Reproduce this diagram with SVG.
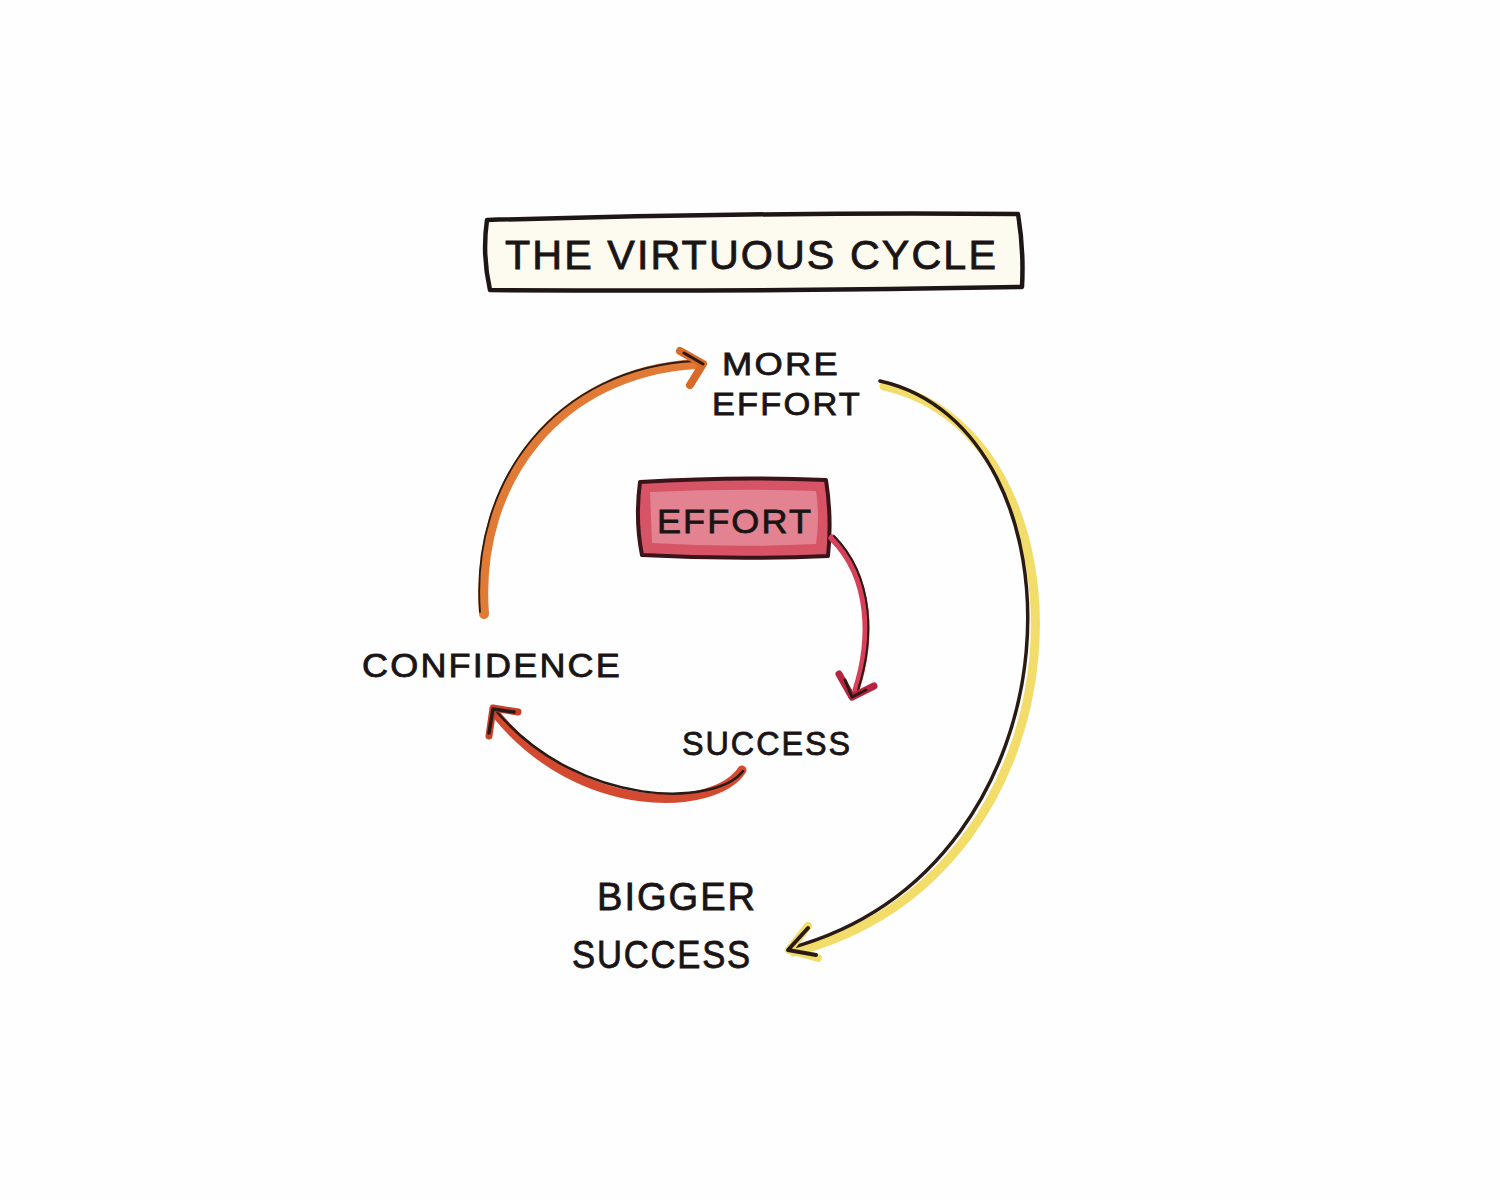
<svg xmlns="http://www.w3.org/2000/svg" width="1500" height="1200" viewBox="0 0 1500 1200">
<style>
.lbl{font-family:"Liberation Sans",Arial,sans-serif;fill:#1a1414;stroke:#1a1414;stroke-width:0.8;letter-spacing:2px}
.dark{fill:none;stroke:#2a1a14;stroke-linecap:round;stroke-linejoin:round}
</style>
<rect width="1500" height="1200" fill="#fefefe"/>

<g id="title">
<path d="M487,220 Q750,212 1018,214 Q1024,250 1022,287 Q750,292 490,290 Q482,255 487,220 Z" fill="#fdfaf0" stroke="#1e1616" stroke-width="4.5" stroke-linejoin="round"/>
<text class="lbl" x="505" y="269" font-size="40" textLength="493" lengthAdjust="spacingAndGlyphs">THE VIRTUOUS CYCLE</text>
</g>

<g id="more-effort">
<text class="lbl" x="722" y="375" font-size="32" textLength="118" lengthAdjust="spacingAndGlyphs">MORE</text>
<text class="lbl" x="712" y="415" font-size="32" textLength="150" lengthAdjust="spacingAndGlyphs">EFFORT</text>
</g>

<g id="effort">
<path d="M640,482 Q735,476 826,480 Q832,518 828,556 Q735,560 642,555 Q635,520 640,482 Z" fill="#d65466" stroke="#3a1418" stroke-width="4" stroke-linejoin="round"/>
<path d="M650,492 Q735,488 816,491 Q820,518 816,544 Q735,548 652,543 Z" fill="#eea8b2" opacity="0.55"/>
<text class="lbl" x="657" y="533" font-size="34" textLength="156" lengthAdjust="spacingAndGlyphs">EFFORT</text>
</g>

<g id="confidence">
<text class="lbl" x="362" y="677" font-size="33" textLength="260" lengthAdjust="spacingAndGlyphs">CONFIDENCE</text>
</g>

<g id="success">
<text class="lbl" x="682" y="755" font-size="33" textLength="170" lengthAdjust="spacingAndGlyphs">SUCCESS</text>
</g>

<g id="bigger-success">
<text class="lbl" x="597" y="910" font-size="38" textLength="160" lengthAdjust="spacingAndGlyphs">BIGGER</text>
<text class="lbl" x="572" y="968" font-size="38" textLength="180" lengthAdjust="spacingAndGlyphs">SUCCESS</text>
</g>

<g id="connectors">
<!-- confidence -> more effort (orange) -->
<path d="M484,614 C474,480 560,372 696,364" fill="none" stroke="#e07a35" stroke-width="10" stroke-linecap="round"/>
<path d="M480,612 C470,480 557,367 696,361" class="dark" stroke-width="1.8"/>
<path d="M680,351 L703,364 L690,385" fill="none" stroke="#d86a28" stroke-width="8" stroke-linecap="round" stroke-linejoin="round"/>
<path d="M684,353 L703,364" class="dark" stroke-width="3"/>

<!-- more effort -> bigger success (yellow/black) -->
<path d="M884,386 C1098,432 1100,872 794,952" fill="none" stroke="#f2dc6a" stroke-width="9" stroke-linecap="round"/>
<path d="M880,381 C1090,428 1090,866 790,948" class="dark" stroke-width="3.5"/>
<path d="M808,926 L789,950 L818,958" fill="none" stroke="#f2dc6a" stroke-width="8" stroke-linecap="round" stroke-linejoin="round"/>
<path d="M808,928 L788,950 L816,955" class="dark" stroke-width="4"/>

<!-- effort -> success (red) -->
<path d="M832,538 C872,578 872,640 856,690" fill="none" stroke="#d8405a" stroke-width="7" stroke-linecap="round"/>
<path d="M834,536 C875,578 874,640 858,690" class="dark" stroke-width="2" stroke="#5a1820"/>
<path d="M839,674 L852,697 L874,686" fill="none" stroke="#b82440" stroke-width="7" stroke-linecap="round" stroke-linejoin="round"/>
<path d="M845,680 L852,697 L866,690" class="dark" stroke-width="3"/>

<!-- success -> confidence (red-orange) -->
<path d="M742,770 C715,812 580,818 496,714" fill="none" stroke="#d44a30" stroke-width="9" stroke-linecap="round"/>
<path d="M743,771 C717,806 582,810 497,712" class="dark" stroke-width="2.5"/>
<path d="M489,736 L493,708 L518,712" fill="none" stroke="#c84028" stroke-width="7" stroke-linecap="round" stroke-linejoin="round"/>
<path d="M489,733 L493,709 L514,712" class="dark" stroke-width="3.5"/>
</g>
</svg>
